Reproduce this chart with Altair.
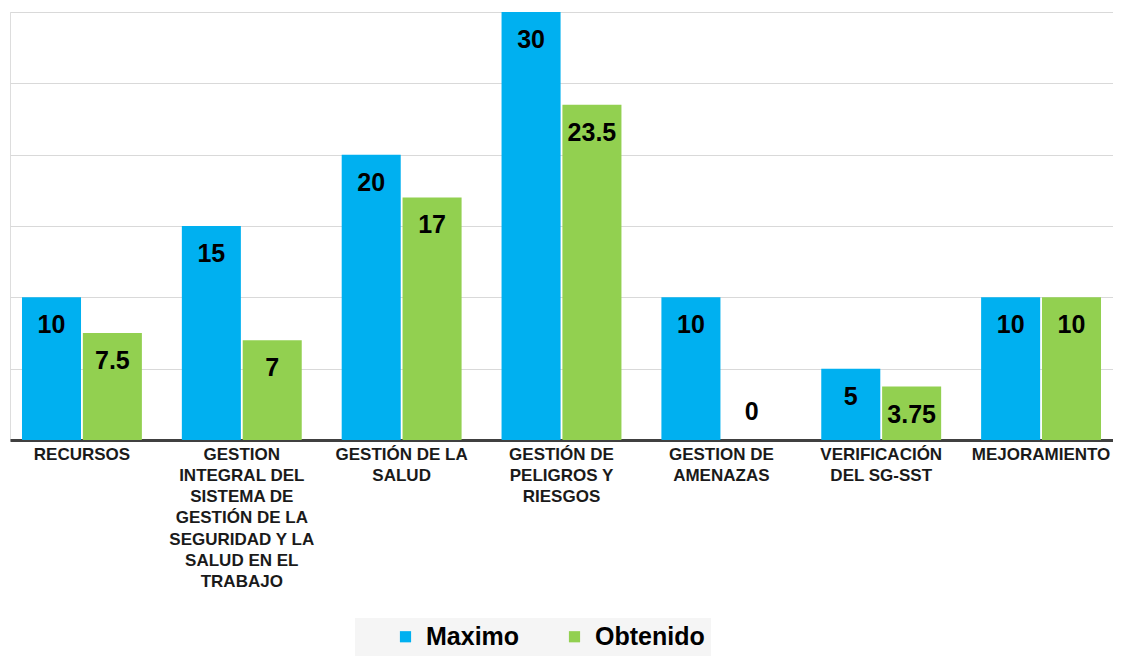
import altair as alt
import pandas as pd

categories = [
    "RECURSOS",
    "GESTION|INTEGRAL DEL|SISTEMA DE|GESTIÓN DE LA|SEGURIDAD Y LA|SALUD EN EL|TRABAJO",
    "GESTIÓN DE LA|SALUD",
    "GESTIÓN DE|PELIGROS Y|RIESGOS",
    "GESTION DE|AMENAZAS",
    "VERIFICACIÓN|DEL SG-SST",
    "MEJORAMIENTO",
]
maximo = [10, 15, 20, 30, 10, 5, 10]
obtenido = [7.5, 7, 17, 23.5, 0, 3.75, 10]
series = ["Maximo", "Obtenido"]
colors = ["#00B0F0", "#92D050"]

rows = []
for c, m, o in zip(categories, maximo, obtenido):
    rows.append({"cat": c, "serie": "Maximo", "value": m})
    rows.append({"cat": c, "serie": "Obtenido", "value": o})
df = pd.DataFrame(rows)

FONT = "Liberation Sans"

x_enc = alt.X(
    "cat:N",
    sort=categories,
    title=None,
    scale=alt.Scale(paddingInner=0.25, paddingOuter=0.075),
    axis=alt.Axis(
        labelExpr="split(datum.label, '|')",
        labelAngle=0,
        labelFont=FONT,
        labelFontSize=17,
        labelFontWeight="bold",
        labelColor="#1a1a1a",
        labelLineHeight=21.3,
        labelPadding=6,
        labelBaseline="top",
        labelLimit=300,
        ticks=False,
        domainColor="#404040",
        domainWidth=3,
        grid=False,
    ),
)
xoff = alt.XOffset("serie:N", sort=series, scale=alt.Scale(paddingInner=0.03))
y_enc = alt.Y(
    "value:Q",
    title=None,
    scale=alt.Scale(domain=[0, 30], nice=False),
    axis=alt.Axis(
        values=[0, 5, 10, 15, 20, 25, 30],
        labels=False,
        ticks=False,
        domain=False,
        grid=True,
        gridColor="#d9d9d9",
        gridWidth=1,
    ),
)

base = alt.Chart(df)

bars = base.mark_bar().encode(
    x=x_enc,
    xOffset=xoff,
    y=y_enc,
    color=alt.Color(
        "serie:N",
        sort=series,
        scale=alt.Scale(domain=series, range=colors),
        legend=alt.Legend(
            title=None,
            orient="none",
            direction="horizontal",
            legendX=345,
            legendY=606,
            symbolType="square",
            symbolSize=125,
            symbolStrokeWidth=0,
            symbolOffset=32,
            labelFont=FONT,
            labelFontSize=25,
            labelFontWeight="bold",
            labelColor="#000000",
            columnPadding=10,
            padding=6,
            fillColor="#f5f5f5",
            labelOffset=8,
        ),
    ),
)

label_common = dict(
    font=FONT, fontSize=25, fontWeight="bold", color="#000000",
    baseline="middle", align="center",
)

labels_in = base.transform_filter("datum.value > 0").transform_calculate(
    txt="'' + datum.value"
).mark_text(dy=28, **label_common).encode(
    x=alt.X("cat:N", sort=categories),
    xOffset=alt.XOffset("serie:N", sort=series),
    y=alt.Y("value:Q"),
    text="txt:N",
)

labels_zero = base.transform_filter("datum.value == 0").transform_calculate(
    txt="'' + datum.value"
).mark_text(dy=-28, **label_common).encode(
    x=alt.X("cat:N", sort=categories),
    xOffset=alt.XOffset("serie:N", sort=series),
    y=alt.Y("value:Q"),
    text="txt:N",
)

chart = alt.layer(bars, labels_in, labels_zero).properties(
    width=1103,
    height=428,
    padding={"left": 2, "top": 4, "right": 0, "bottom": 0},
).configure_view(stroke=None).configure(background="#ffffff")

chart.save("out.html", embed_options={"renderer": "svg", "actions": False})
